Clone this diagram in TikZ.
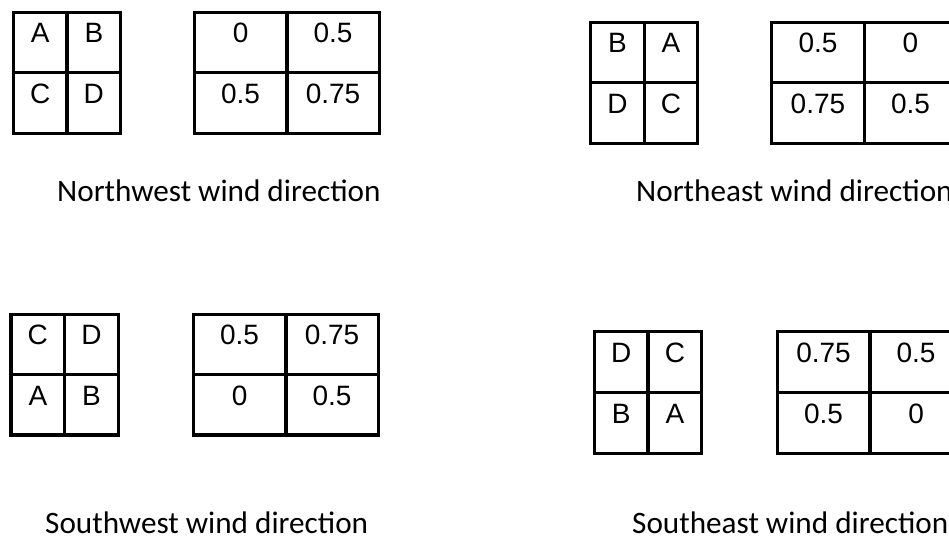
\documentclass[tikz,border=0pt]{standalone}
\usepackage{fontspec}
\setmainfont{Liberation Sans}
\newfontfamily\labelfont{Carlito}
\tikzset{
  gridline/.style={line width=3.4pt, line join=miter, draw=black},
  celltxt/.style={anchor=base, inner sep=0pt, font=\fontsize{28}{33}\selectfont},
  captxt/.style={anchor=base west, inner sep=0pt, font=\labelfont\fontsize{31.2}{37}\selectfont}
}
% #1 prefix, #2 x0, #3 y0, #4 cell width, #5 cell height, #6-#9 texts
\newcommand{\wtable}[9]{%
  \draw[gridline] (#2,#3) rectangle (#2+2*#4,#3+2*#5);
  \draw[gridline] (#2+#4,#3) -- (#2+#4,#3+2*#5);
  \draw[gridline] (#2,#3+#5) -- (#2+2*#4,#3+#5);
  \node[celltxt] (#1a) at (#2+0.5*#4,#3+30.5) {#6};
  \node[celltxt] (#1b) at (#2+1.5*#4,#3+30.5) {#7};
  \node[celltxt] (#1c) at (#2+0.5*#4,#3+#5+31) {#8};
  \node[celltxt] (#1d) at (#2+1.5*#4,#3+#5+31) {#9};
}
\begin{document}
\begin{tikzpicture}[x=1pt,y=-1pt]
\useasboundingbox (0,0) rectangle (949,537);
\clip (0,0) rectangle (949,537);
\wtable{nws}{13.3}{12.3}{53.7}{60.5}{A}{B}{C}{D}
\wtable{nwb}{194.3}{12.3}{92.5}{60.5}{0}{0.5}{0.5}{0.75}
\wtable{nes}{590.7}{22.3}{53.5}{60.5}{B}{A}{D}{C}
\wtable{neb}{771.7}{22.3}{92.5}{60.5}{0.5}{0}{0.75}{0.5}
\wtable{sws}{11}{314.3}{53.7}{60.4}{C}{D}{A}{B}
\wtable{swb}{193.3}{314.3}{92.5}{60.4}{0.5}{0.75}{0}{0.5}
\wtable{ses}{594.3}{331.7}{53.7}{60.8}{D}{C}{B}{A}
\wtable{seb}{777.3}{331.7}{92.5}{60.8}{0.75}{0.5}{0.5}{0}
\node[captxt] (nwlab) at (57,202) {Northwest wind direction};
\node[captxt] (nelab) at (636,202) {Northeast wind direction};
\node[captxt] (swlab) at (45,533) {Southwest wind direction};
\node[captxt] (selab) at (632,533) {Southeast wind direction};
\end{tikzpicture}
\end{document}
